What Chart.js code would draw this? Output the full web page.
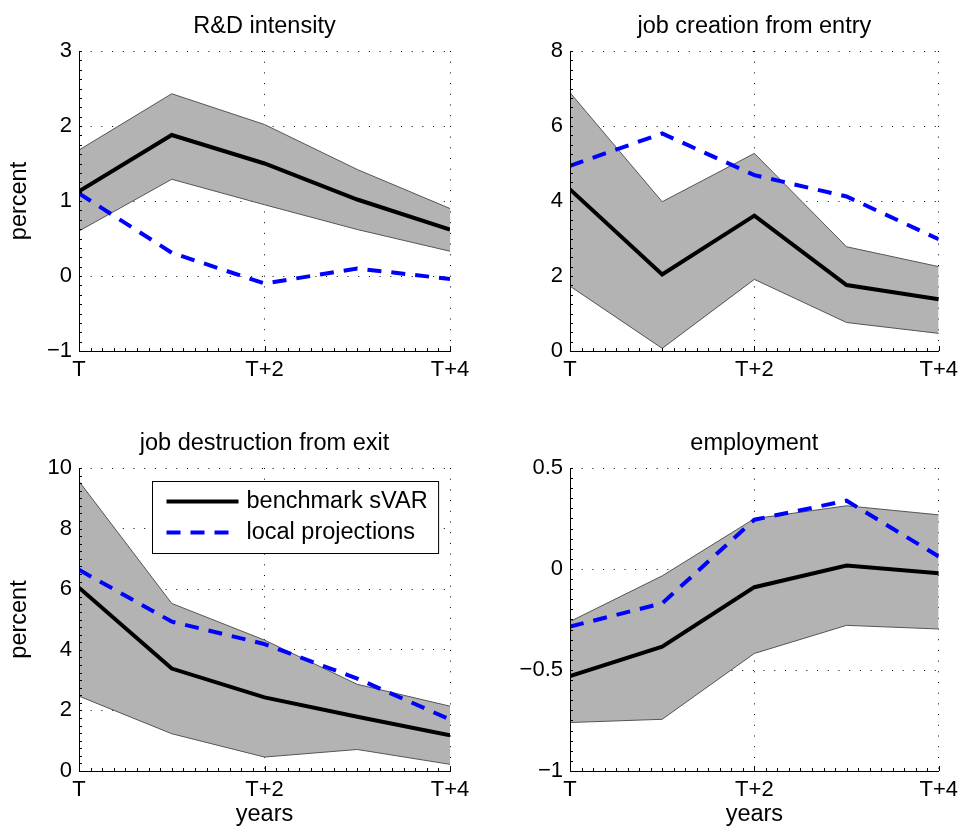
<!DOCTYPE html>
<html>
<head>
<meta charset="utf-8">
<script src="https://cdn.jsdelivr.net/npm/chart.js@4.4.0/dist/chart.umd.min.js"></script>
<style>
  body { margin: 0; background: #fff; width: 964px; height: 831px; position: relative; overflow: hidden; }
  .panel { position: absolute; }
</style>
</head>
<body>
<div class="panel" style="left:0;top:0"><canvas id="rd" width="480" height="415"></canvas></div>
<div class="panel" style="left:480px;top:0"><canvas id="entry" width="484" height="415"></canvas></div>
<div class="panel" style="left:0;top:417px"><canvas id="exit" width="480" height="414"></canvas></div>
<div class="panel" style="left:480px;top:417px"><canvas id="emp" width="484" height="414"></canvas></div>
<script>
// horizons (years after shock) and labels
const horizons = [0, 1, 2, 3, 4];
const xTickLabels = ['T', 'T+2', 'T+4'];
const legendLabels = ['benchmark sVAR', 'local projections'];

// R&D intensity
const rdTicks = [-1, 0, 1, 2, 3];
const rdSvar  = [1.13, 1.88, 1.50, 1.02, 0.62];
const rdUpper = [1.68, 2.43, 2.02, 1.42, 0.90];
const rdLower = [0.60, 1.29, 0.95, 0.62, 0.33];
const rdLP    = [1.10, 0.31, -0.10, 0.10, -0.04];

// job creation from entry
const entryTicks = [0, 2, 4, 6, 8];
const entrySvar  = [4.31, 2.04, 3.61, 1.76, 1.38];
const entryUpper = [6.89, 3.98, 5.27, 2.78, 2.25];
const entryLower = [1.73, 0.07, 1.91, 0.76, 0.47];
const entryLP    = [4.94, 5.80, 4.69, 4.12, 2.98];

// job destruction from exit
const exitTicks = [0, 2, 4, 6, 8, 10];
const exitSvar  = [6.05, 3.38, 2.43, 1.79, 1.18];
const exitUpper = [9.56, 5.53, 4.32, 2.86, 2.14];
const exitLower = [2.47, 1.23, 0.46, 0.71, 0.22];
const exitLP    = [6.64, 4.93, 4.19, 3.05, 1.70];

// employment
const empTicks = [-1, -0.5, 0, 0.5];
const empSvar  = [-0.53, -0.385, -0.09, 0.017, -0.021];
const empUpper = [-0.26, -0.034, 0.249, 0.313, 0.268];
const empLower = [-0.76, -0.744, -0.418, -0.279, -0.297];
const empLP    = [-0.285, -0.17, 0.244, 0.338, 0.062];

const FONT = "'Liberation Sans', Arial, Helvetica, sans-serif";
const tickFont = { family: FONT, size: 22, weight: 'normal' };
const labelFont = { family: FONT, size: 23.5, weight: 'normal' };

// small inward ticks along the left and bottom axes, like matlab
const inwardTicks = {
    id: 'inwardTicks',
    afterDraw(chart, args, o) {
        const { ctx, chartArea: a, scales: { x, y } } = chart;
        ctx.save();
        ctx.strokeStyle = '#000';
        ctx.lineWidth = 1;
        ctx.beginPath();
        for (let v = x.min; v <= x.max + 1e-9; v += o.xStep) {
            const px = Math.round(x.getPixelForValue(v)) + 0.5;
            const len = Math.abs(v % 2) < 1e-9 ? 5 : 3;
            ctx.moveTo(px, a.bottom);
            ctx.lineTo(px, a.bottom - len);
        }
        for (let v = y.min; v <= y.max + 1e-9; v += o.yStep) {
            const py = Math.round(y.getPixelForValue(v)) + 0.5;
            ctx.moveTo(a.left, py);
            ctx.lineTo(a.left + 3, py);
        }
        ctx.stroke();
        ctx.restore();
    }
};

// boxed legend inside the plot area (only on one panel)
const boxLegend = {
    id: 'boxLegend',
    afterDraw(chart, args, o) {
        if (!o.show) return;
        const { ctx, chartArea: a } = chart;
        const sets = chart.data.datasets.filter(d => d.label);
        ctx.save();
        ctx.font = `23.5px ${FONT}`;
        const tw = Math.max(...sets.map(d => ctx.measureText(d.label).width));
        const w = 14 + 72 + 8 + tw + 11, h = 72;
        const bx = Math.round(a.right - 12 - w) + 0.5, by = Math.round(a.top + 13) + 0.5;
        ctx.fillStyle = '#fff';
        ctx.fillRect(bx, by, w, h);
        ctx.strokeStyle = '#000';
        ctx.lineWidth = 1;
        ctx.strokeRect(bx, by, w, h);
        sets.forEach((d, i) => {
            const ly = by + 20 + i * 31;
            ctx.strokeStyle = d.borderColor;
            ctx.lineWidth = d.borderWidth;
            ctx.setLineDash(d.borderDash || []);
            ctx.beginPath();
            ctx.moveTo(bx + 14, ly);
            ctx.lineTo(bx + 86, ly);
            ctx.stroke();
            ctx.setLineDash([]);
            ctx.fillStyle = '#000';
            ctx.textBaseline = 'middle';
            ctx.fillText(d.label, bx + 94, ly);
        });
        ctx.restore();
    }
};

function drawPanel(id, p) {
    const yMin = p.ticks[0], yMax = p.ticks[p.ticks.length - 1];
    new Chart(document.getElementById(id), {
        type: 'line',
        data: {
            labels: horizons,
            datasets: [
                { data: p.lower, borderColor: '#555', borderWidth: 1, pointRadius: 0, fill: false, order: 3 },
                { data: p.upper, borderColor: '#555', borderWidth: 1, pointRadius: 0, fill: '-1', backgroundColor: '#b3b3b3', order: 3 },
                { label: legendLabels[0], data: p.svar, borderColor: '#000', borderWidth: 4, pointRadius: 0, order: 2 },
                { label: legendLabels[1], data: p.lp, borderColor: '#0000ff', borderWidth: 4, borderDash: [14, 10], pointRadius: 0, order: 1 }
            ]
        },
        options: {
            responsive: false,
            animation: false,
            events: [],
            layout: { padding: { left: 0, right: p.padRight, top: 0, bottom: 0 } },
            plugins: {
                legend: { display: false },
                tooltip: { enabled: false },
                title: {
                    display: true, text: p.title, fullSize: false, color: '#000', font: labelFont,
                    padding: { top: 12.7, bottom: 10.1 }
                },
                inwardTicks: { xStep: 0.125, yStep: p.minor },
                boxLegend: { show: !!p.legend }
            },
            scales: {
                x: {
                    type: 'linear', min: 0, max: 4,
                    afterBuildTicks: s => { s.ticks = [0, 2, 4].map(v => ({ value: v })); },
                    afterFit: s => { s.height = p.xh; },
                    ticks: { callback: v => xTickLabels[v / 2], autoSkip: false, maxRotation: 0, padding: 6, color: '#000', font: tickFont },
                    grid: { color: '#000', lineWidth: 1, drawTicks: false },
                    border: { display: true, color: '#000', width: 1, dash: [1, 9.7], z: 1 },
                    title: { display: !!p.xTitle, text: p.xTitle, color: '#000', font: labelFont, padding: { top: 0, bottom: 2.1 } }
                },
                y: {
                    min: yMin, max: yMax,
                    afterBuildTicks: s => { s.ticks = p.ticks.map(v => ({ value: v })); },
                    afterFit: s => { s.width = p.yw; },
                    ticks: { callback: v => String(v).replace('-', '\u2212'), padding: 7, color: '#000', font: tickFont },
                    grid: { color: '#000', lineWidth: 1, drawTicks: false },
                    border: { display: true, color: '#000', width: 1, dash: [1, 9.7], z: 1 },
                    title: { display: !!p.yTitle, text: p.yTitle, color: '#000', font: labelFont, padding: { top: 5.9, bottom: 0 } }
                }
            }
        },
        plugins: [inwardTicks, boxLegend]
    });
}

drawPanel('rd', { title: 'R&D intensity', ticks: rdTicks, svar: rdSvar, upper: rdUpper, lower: rdLower, lp: rdLP,
    yTitle: 'percent', yw: 79, padRight: 30, xh: 64, minor: 0.125 });
drawPanel('entry', { title: 'job creation from entry', ticks: entryTicks, svar: entrySvar, upper: entryUpper, lower: entryLower, lp: entryLP,
    yw: 90, padRight: 25, xh: 64, minor: 0.25 });
drawPanel('exit', { title: 'job destruction from exit', ticks: exitTicks, svar: exitSvar, upper: exitUpper, lower: exitLower, lp: exitLP,
    yTitle: 'percent', xTitle: 'years', yw: 79, padRight: 30, xh: 60, minor: 0.25, legend: true });
drawPanel('emp', { title: 'employment', ticks: empTicks, svar: empSvar, upper: empUpper, lower: empLower, lp: empLP,
    xTitle: 'years', yw: 90, padRight: 25, xh: 60, minor: 0.05 });
</script>
</body>
</html>
